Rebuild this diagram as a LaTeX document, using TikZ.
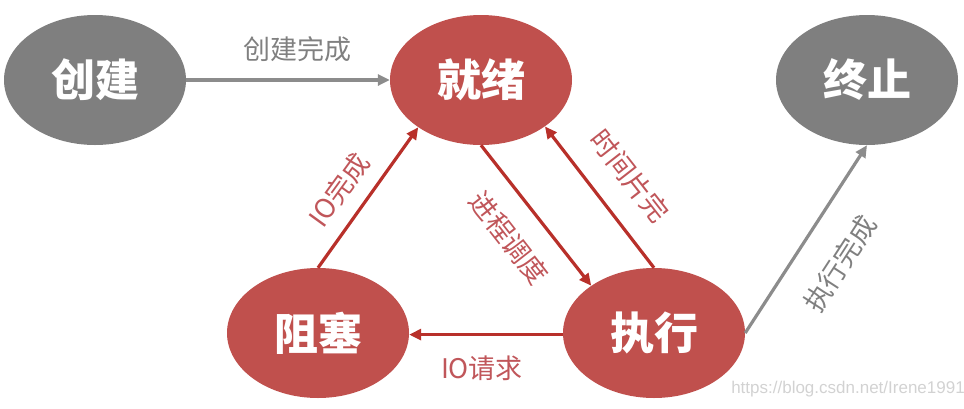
\documentclass[tikz,border=0pt]{standalone}
\usepackage{fontspec}
\newfontfamily\cjk{Noto Sans CJK SC}
\setsansfont{Liberation Sans}
\usetikzlibrary{shapes.geometric,arrows.meta}
\definecolor{nodered}{HTML}{C0504D}
\definecolor{nodegray}{HTML}{7F7F7F}
\definecolor{arrred}{HTML}{B8302A}
\definecolor{arrgray}{HTML}{8C8C8C}
\definecolor{lblred}{HTML}{C0565A}
\definecolor{lblgray}{HTML}{808080}
\definecolor{wmgray}{HTML}{D2D2D2}
\tikzset{
  state/.style={ellipse, inner sep=0pt, minimum width=182pt, minimum height=130pt,
    text=white, font=\cjk\bfseries\fontsize{44}{48}\selectfont},
  redstate/.style={state, fill=nodered},
  graystate/.style={state, fill=nodegray},
  redarrow/.style={draw=arrred, line width=3.2pt, -{Triangle[length=12pt,width=11pt]}},
  grayarrow/.style={draw=arrgray, line width=3.2pt, -{Triangle[length=12pt,width=11pt]}},
  redlbl/.style={text=lblred, font=\cjk\fontsize{27}{30}\selectfont, inner sep=0pt},
  graylbl/.style={text=lblgray, font=\cjk\fontsize{27}{30}\selectfont, inner sep=0pt},
}
\begin{document}
\begin{tikzpicture}[x=1pt,y=-1pt]
\useasboundingbox (0,0) rectangle (964,408);
\node[graystate] (chuangjian) at (95,80) {创建};
\node[redstate] (jiuxu) at (481,80) {就绪};
\node[graystate] (zhongzhi) at (867,80) {终止};
\node[redstate] (zuse) at (318,333) {阻塞};
\node[redstate] (zhixing) at (654,333) {执行};

\draw[grayarrow] (chuangjian.0) -- (jiuxu.180);
\draw[redarrow] (zuse.90) -- (jiuxu.217);
\draw[redarrow] (jiuxu.270) -- (zhixing.143);
\draw[redarrow] (zhixing.90) -- (jiuxu.324);
\draw[redarrow] (zhixing.181) -- (zuse.-1);
\draw[grayarrow] (zhixing.0) -- (zhongzhi.270);

\node[graylbl] (l1) at (297,49) {创建完成};
\node[redlbl, rotate=54] (l2) at (339,190) {IO完成};
\node[redlbl, rotate=-52] (l3) at (509,238) {进程调度};
\node[redlbl, rotate=-52] (l4) at (630,176) {时间片完};
\node[redlbl] (l5) at (482,368) {IO请求};
\node[graylbl, rotate=57] (l6) at (840,264) {执行完成};
\node[text=wmgray, font=\sffamily\fontsize{17}{20}\selectfont, inner sep=0pt] (wm) at (848,389) {https://blog.csdn.net/Irene1991};
\end{tikzpicture}
\end{document}
